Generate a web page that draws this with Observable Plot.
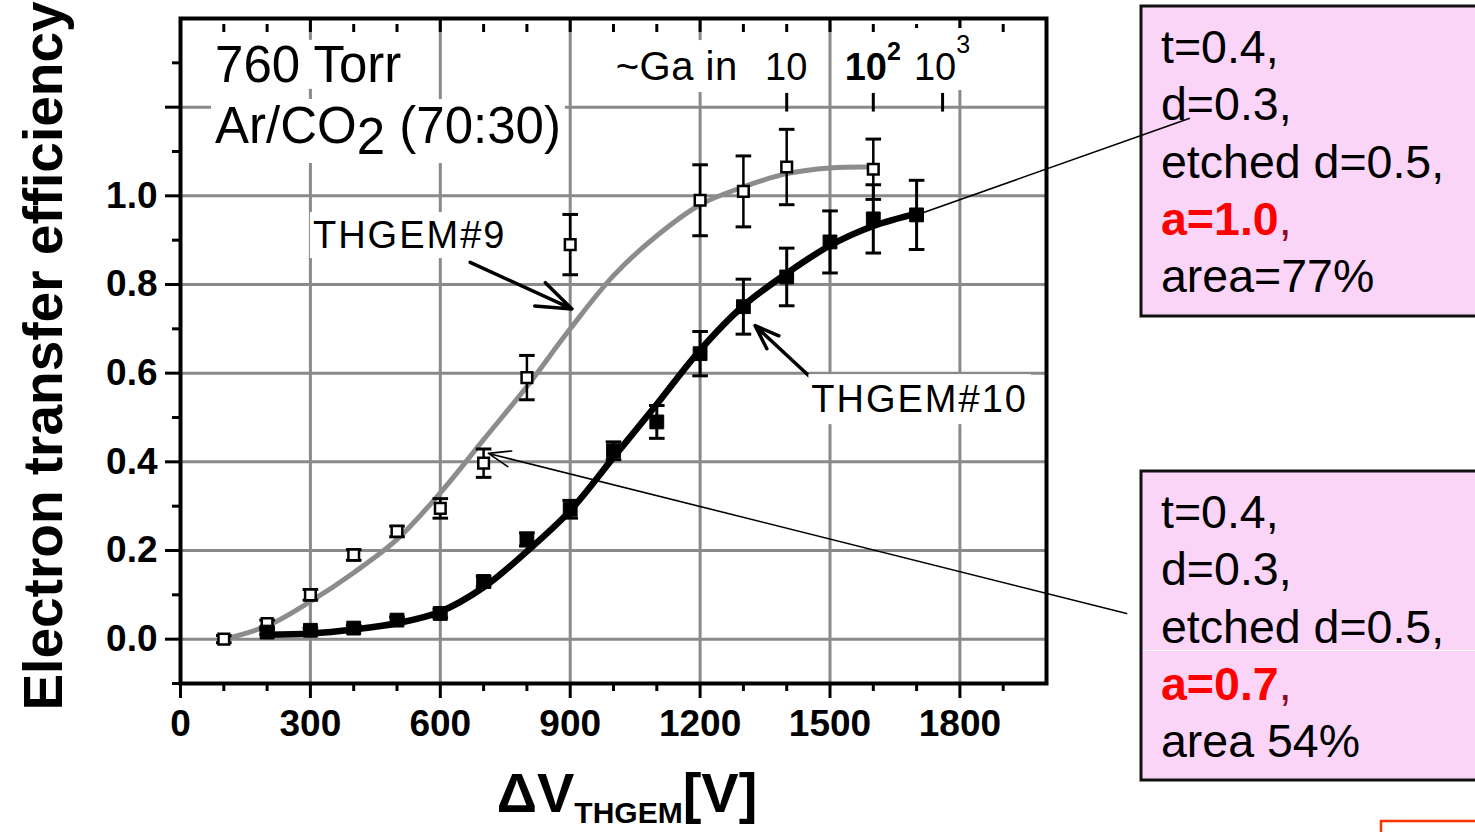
<!DOCTYPE html>
<html>
<head>
<meta charset="utf-8">
<script src="https://cdn.jsdelivr.net/npm/d3@7"></script>
<script src="https://cdn.jsdelivr.net/npm/@observablehq/plot@0.6"></script>
<style>
  html, body { margin: 0; padding: 0; background: #fff; }
  #chart { position: relative; width: 1475px; height: 832px; overflow: hidden; }
</style>
</head>
<body>
<div id="chart"></div>
<script>
// ---- Measured transfer efficiency, THGEM#9 (open squares) ----
const thgem9Voltage = [100, 200, 300, 400, 500, 600, 700, 800, 900, 1200, 1300, 1400, 1600];
const thgem9Eff     = [0.00, 0.035, 0.10, 0.19, 0.243, 0.295, 0.397, 0.59, 0.89, 0.99, 1.01, 1.065, 1.06];
const thgem9Err     = [0.008, 0.008, 0.012, 0.012, 0.012, 0.022, 0.032, 0.05, 0.068, 0.08, 0.08, 0.085, 0.068];

// ---- Measured transfer efficiency, THGEM#10 (filled squares) ----
const thgem10Voltage = [200, 300, 400, 500, 600, 700, 800, 900, 1000, 1100, 1200, 1300, 1400, 1500, 1600, 1700];
const thgem10Eff     = [0.016, 0.02, 0.025, 0.043, 0.058, 0.13, 0.225, 0.293, 0.425, 0.49, 0.644, 0.75, 0.817, 0.896, 0.948, 0.957];
const thgem10Err     = [0.005, 0.005, 0.006, 0.007, 0.01, 0.012, 0.015, 0.02, 0.02, 0.037, 0.05, 0.062, 0.065, 0.07, 0.077, 0.078];

// ---- Fitted curves ----
const fit9Voltage  = [100, 200, 300, 400, 500, 600, 700, 800, 900, 1000, 1100, 1200, 1300, 1400, 1500, 1600];
const fit9Eff      = [0.0, 0.03, 0.085, 0.15, 0.225, 0.33, 0.45, 0.57, 0.70, 0.82, 0.91, 0.98, 1.02, 1.05, 1.063, 1.065];
const fit10Voltage = [200, 300, 400, 500, 600, 700, 800, 900, 1000, 1100, 1200, 1300, 1400, 1500, 1600, 1700];
const fit10Eff     = [0.01, 0.013, 0.022, 0.036, 0.062, 0.117, 0.198, 0.29, 0.41, 0.53, 0.652, 0.752, 0.825, 0.888, 0.932, 0.96];

// ---- Axis ticks ----
const xMajorTicks = [0, 300, 600, 900, 1200, 1500, 1800];
const xMinorTicks = [100, 200, 400, 500, 700, 800, 1000, 1100, 1300, 1400, 1600, 1700, 1900];
const yMajorTicks = [0, 0.2, 0.4, 0.6, 0.8, 1.0, 1.2];
const yMinorTicks = [-0.1, 0.1, 0.3, 0.5, 0.7, 0.9, 1.1, 1.3];
const yLabelledMax = 1.0;

// ---- Approximate gas gain scale along the voltage axis ----
const gainVoltage = [1400, 1600, 1760];
const gainBase    = ["10", "10", "10"];
const gainExp     = ["", "2", "3"];
const gainBold    = [false, true, false];

// ---- Geometry parameters of the two plates ----
const spec9Lines  = ["t=0.4,", "d=0.3,", "etched d=0.5,", "a=0.7", "area 54%"];
const spec10Lines = ["t=0.4,", "d=0.3,", "etched d=0.5,", "a=1.0", "area=77%"];

const FONT = "'Liberation Sans', Arial, Helvetica, sans-serif";

const rows9  = thgem9Voltage.map((v, i) => ({v, e: thgem9Eff[i], err: thgem9Err[i]}));
const rows10 = thgem10Voltage.map((v, i) => ({v, e: thgem10Eff[i], err: thgem10Err[i]}));
const fit9   = fit9Voltage.map((v, i) => ({v, e: fit9Eff[i]}));
const fit10  = fit10Voltage.map((v, i) => ({v, e: fit10Eff[i]}));

// Arrows from the curve labels to the fits
const labelArrows = [
  {x1: 669, y1: 0.85, x2: 904, y2: 0.745},
  {x1: 1458, y1: 0.588, x2: 1327, y2: 0.707}
];
// Leader lines to the parameter boxes
const leader10 = [{x1: 1700, y1: 0.957, x2: 2331, y2: 1.175}];
const leader9  = [{x1: 2185, y1: 0.058, x2: 711, y2: 0.419}];

const capHalf = 18; // half width of error-bar caps, in volts

function errorBars(rows, sw) {
  return [
    Plot.ruleX(rows, {x: "v", y1: d => d.e - d.err, y2: d => d.e + d.err, stroke: "black", strokeWidth: sw}),
    Plot.link(rows, {x1: d => d.v - capHalf, x2: d => d.v + capHalf, y1: d => d.e + d.err, y2: d => d.e + d.err, stroke: "black", strokeWidth: 3}),
    Plot.link(rows, {x1: d => d.v - capHalf, x2: d => d.v + capHalf, y1: d => d.e - d.err, y2: d => d.e - d.err, stroke: "black", strokeWidth: 3})
  ];
}

const plot = Plot.plot({
  width: 1475,
  height: 832,
  marginLeft: 180,
  marginRight: 429,
  marginTop: 18,
  marginBottom: 149,
  x: {domain: [0, 2000], label: null},
  y: {domain: [-0.1, 1.4], label: null},
  style: {background: "transparent", fontFamily: FONT, overflow: "visible"},
  marks: [
    Plot.gridX({ticks: xMajorTicks.filter(d => d > 0), stroke: "#8a8a8a", strokeOpacity: 1, strokeWidth: 3}),
    Plot.gridY({ticks: yMajorTicks, stroke: "#8a8a8a", strokeOpacity: 1, strokeWidth: 3}),

    Plot.line(fit9, {x: "v", y: "e", stroke: "#8c8c8c", strokeWidth: 5, curve: "catmull-rom"}),
    Plot.line(fit10, {x: "v", y: "e", stroke: "black", strokeWidth: 6.5, curve: "catmull-rom"}),

    ...errorBars(rows9, 2.5),
    ...errorBars(rows10, 3),

    Plot.dot(rows9, {x: "v", y: "e", symbol: "square", r: 6, fill: "white", stroke: "black", strokeWidth: 2.5}),
    Plot.dot(rows10, {x: "v", y: "e", symbol: "square", r: 7.8, fill: "black", stroke: "black", strokeWidth: 1}),

    // gain scale ticks
    Plot.ruleX(gainVoltage, {x: d => d, y1: 1.189, y2: 1.231, stroke: "black", strokeWidth: 3}),

    Plot.arrow(labelArrows, {x1: "x1", y1: "y1", x2: "x2", y2: "y2", stroke: "black", strokeWidth: 3.5, headLength: 18, headAngle: 40}),
    Plot.link(leader10, {x1: "x1", y1: "y1", x2: "x2", y2: "y2", stroke: "black", strokeWidth: 1.6}),
    Plot.arrow(leader9, {x1: "x1", y1: "y1", x2: "x2", y2: "y2", stroke: "black", strokeWidth: 1.6, headLength: 22, headAngle: 40}),

    Plot.frame({stroke: "black", strokeWidth: 4}),

    // bottom axis
    Plot.axisX({ticks: xMajorTicks, tickSize: 15, tickPadding: 11, strokeWidth: 3, label: null,
      tickFormat: d => String(d), fontSize: 37, fontWeight: "bold"}),
    Plot.axisX({ticks: xMinorTicks, tickSize: 8, strokeWidth: 3, label: null, tickFormat: () => ""}),
    // top ticks, pointing inward
    Plot.axisX({anchor: "top", ticks: xMajorTicks, tickSize: 13, dy: 13, strokeWidth: 3, label: null, tickFormat: () => ""}),
    Plot.axisX({anchor: "top", ticks: xMinorTicks, tickSize: 8, dy: 13, strokeWidth: 3, label: null, tickFormat: () => ""}),
    // left axis
    Plot.axisY({ticks: yMajorTicks, tickSize: 15, tickPadding: 8, strokeWidth: 3, label: null,
      tickFormat: d => d <= yLabelledMax + 1e-9 ? d.toFixed(1) : "", fontSize: 37, fontWeight: "bold"}),
    Plot.axisY({ticks: yMinorTicks, tickSize: 8, strokeWidth: 3, label: null, tickFormat: () => ""})
  ]
});

document.getElementById("chart").appendChild(plot);

const sx = plot.scale("x"), sy = plot.scale("y");
const X = v => sx.apply(v), Y = v => sy.apply(v);
const svg = d3.select(plot);

// ---- In-plot annotations with white backing ----
const annot = svg.append("g").attr("font-family", FONT);

function label(x, y, parts, {size, anchor = "start", weight = "normal", spacing = 0, padX = 4, padY = 2, bg = true}) {
  const g = annot.append("g");
  const t = g.append("text")
    .attr("x", x).attr("y", y)
    .attr("font-size", size)
    .attr("text-anchor", anchor)
    .attr("font-weight", weight)
    .attr("letter-spacing", spacing)
    .attr("fill", "black");
  for (const p of parts) {
    const ts = t.append("tspan").text(p.text);
    if (p.dy) ts.attr("dy", p.dy);
    if (p.size) ts.attr("font-size", p.size);
    if (p.weight) ts.attr("font-weight", p.weight);
  }
  if (bg) {
    const b = t.node().getBBox();
    g.insert("rect", "text")
      .attr("x", b.x - padX).attr("y", b.y - padY)
      .attr("width", b.width + 2 * padX).attr("height", b.height + 2 * padY)
      .attr("fill", "white");
  }
}

label(X(81), Y(1.256), [{text: "760 Torr"}], {size: 51, padY: -4});
label(X(81), Y(1.118), [{text: "Ar/CO"}, {text: "2", dy: 11}, {text: " (70:30)", dy: -11}], {size: 51, padY: -2});

label(X(1147), Y(1.26), [{text: "~Ga in"}], {size: 40, anchor: "middle", spacing: 0.5, padY: 4});
gainVoltage.forEach((v, i) => {
  const parts = [{text: gainBase[i]}];
  if (gainExp[i]) parts.push({text: gainExp[i], dy: gainBold[i] ? -20 : -27, size: 25});
  label(X(v), Y(1.26), parts, {size: 38, anchor: "middle", weight: gainBold[i] ? "bold" : "normal", padX: 2, padY: 2});
});

label(X(307), Y(0.881), [{text: "THGEM#9"}], {size: 38, spacing: 2, padX: 3, padY: 2});
label(X(1458), Y(0.511), [{text: "THGEM#10"}], {size: 38, spacing: 2, padX: 3, padY: 4});

// ---- Axis titles ----
svg.append("text")
  .attr("transform", "translate(62,356) rotate(-90)")
  .attr("text-anchor", "middle")
  .attr("font-family", FONT)
  .attr("font-weight", "bold")
  .attr("font-size", 55)
  .attr("fill", "black")
  .text("Electron transfer efficiency");

const xt = svg.append("text")
  .attr("x", 627).attr("y", 812)
  .attr("text-anchor", "middle")
  .attr("font-family", FONT)
  .attr("font-weight", "bold")
  .attr("font-size", 56)
  .attr("fill", "black");
xt.append("tspan").text("ΔV");
xt.append("tspan").attr("font-size", 30).attr("dy", 11).text("THGEM");
xt.append("tspan").attr("dy", -11).text("[V]");

// ---- Parameter boxes (drawn underneath the leader lines) ----
const boxes = svg.insert("g", ":first-child").attr("font-family", FONT).attr("text-anchor", "start");

function specBox(top, height, lines, baseline0) {
  boxes.append("rect")
    .attr("x", 1141).attr("y", top)
    .attr("width", 400).attr("height", height)
    .attr("fill", "#fbd5f8").attr("stroke", "#111").attr("stroke-width", 3);
  lines.forEach((line, i) => {
    const t = boxes.append("text")
      .attr("x", 1161).attr("y", baseline0 + i * 57.3)
      .attr("text-anchor", "start")
      .attr("font-size", 46.5).attr("fill", "black");
    if (i === 3) {
      t.append("tspan").attr("font-weight", "bold").attr("fill", "#ff0000").text(line);
      t.append("tspan").attr("fill", "#8b0a2a").text(",");
    } else {
      t.text(line);
    }
  });
}
specBox(6, 310, spec10Lines, 63);
specBox(471, 309, spec9Lines, 528);
boxes.append("line").attr("x1", 1143).attr("x2", 1475).attr("y1", 650.5).attr("y2", 650.5)
  .attr("stroke", "white").attr("stroke-width", 1);

boxes.append("rect")
  .attr("x", 1381).attr("y", 821).attr("width", 200).attr("height", 60)
  .attr("fill", "white").attr("stroke", "#ff3300").attr("stroke-width", 2.5);
</script>
</body>
</html>
